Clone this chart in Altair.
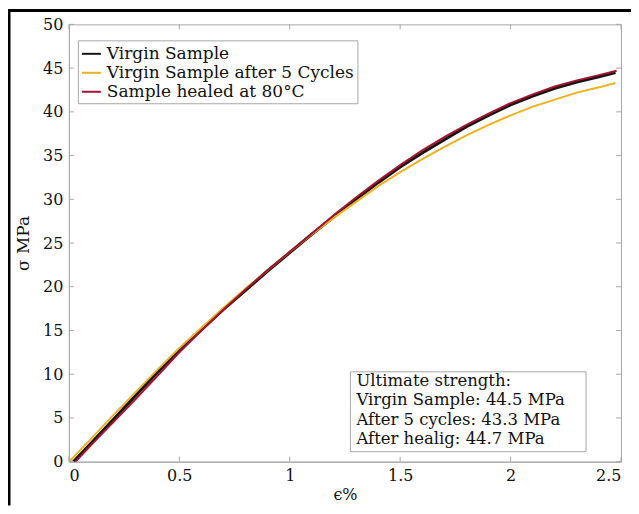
import altair as alt
import pandas as pd

# ---- data ----
series_names = ["Virgin Sample", "Virgin Sample after 5 Cycles", "Sample healed at 80°C"]
series_colors = ["#151515", "#EDB120", "#A2142F"]

virgin_x = [0.02, 0.1, 0.2, 0.3, 0.4, 0.5, 0.6, 0.7, 0.8, 0.9, 1.0, 1.1, 1.2, 1.3,
            1.4, 1.5, 1.6, 1.7, 1.8, 1.9, 2.0, 2.1, 2.2, 2.3, 2.4, 2.475]
virgin_y = [0.0, 2.1, 4.8, 7.5, 10.2, 12.8, 15.1, 17.4, 19.6, 21.8, 23.9, 26.0, 28.0, 30.0,
            31.9, 33.7, 35.3, 36.8, 38.3, 39.6, 40.8, 41.8, 42.7, 43.4, 44.0, 44.5]

cycled_x = [0.005, 0.1, 0.2, 0.3, 0.4, 0.5, 0.6, 0.7, 0.8, 0.9, 1.0, 1.1, 1.2, 1.3,
            1.4, 1.5, 1.6, 1.7, 1.8, 1.9, 2.0, 2.1, 2.2, 2.3, 2.4, 2.475]
cycled_y = [0.1, 2.6, 5.3, 7.9, 10.5, 13.0, 15.3, 17.6, 19.8, 21.9, 24.0, 26.0, 27.9, 29.7,
            31.5, 33.1, 34.6, 36.0, 37.3, 38.5, 39.6, 40.6, 41.4, 42.2, 42.8, 43.3]

healed_x = [0.03, 0.1, 0.2, 0.3, 0.4, 0.5, 0.6, 0.7, 0.8, 0.9, 1.0, 1.1, 1.2, 1.3,
            1.4, 1.5, 1.6, 1.7, 1.8, 1.9, 2.0, 2.1, 2.2, 2.3, 2.4, 2.48]
healed_y = [0.0, 1.9, 4.5, 7.1, 9.8, 12.5, 15.0, 17.4, 19.7, 21.9, 24.0, 26.1, 28.2, 30.2,
            32.1, 33.9, 35.6, 37.1, 38.5, 39.8, 41.0, 42.0, 42.9, 43.6, 44.2, 44.7]

x_ticks = [0, 0.5, 1, 1.5, 2, 2.5]
y_ticks = [0, 5, 10, 15, 20, 25, 30, 35, 40, 45, 50]

note_lines = ["Ultimate strength:", "Virgin Sample: 44.5 MPa",
              "After 5 cycles: 43.3 MPa", "After healig: 44.7 MPa"]

FONT = "DejaVu Serif"
W, H = 553, 438
GRAY = "#a8a8a8"

frames = []
for name, xs, ys in [(series_names[0], virgin_x, virgin_y),
                     (series_names[1], cycled_x, cycled_y),
                     (series_names[2], healed_x, healed_y)]:
    frames.append(pd.DataFrame({"series": name, "strain": xs, "stress": ys}))
df = pd.concat(frames, ignore_index=True)

xscale = alt.Scale(domain=[0, 2.5], nice=False, zero=False)
yscale = alt.Scale(domain=[0, 50], nice=False, zero=False)

color = alt.Color(
    "series:N",
    scale=alt.Scale(domain=series_names, range=series_colors),
    legend=alt.Legend(
        title=None, orient="none", legendX=9, legendY=16,
        symbolType="stroke", symbolSize=361, symbolStrokeWidth=2,
        labelFont=FONT, labelFontSize=17, labelColor="#111",
        strokeColor=GRAY, fillColor="white", padding=3,
        rowPadding=0, labelOffset=5, labelLimit=400,
    ),
)

xaxis = alt.Axis(values=x_ticks, format="~g", title="ϵ%", ticks=False, tickSize=0,
                 labelPadding=6, titlePadding=3, titleFontSize=16, grid=False)
yaxis = alt.Axis(values=y_ticks, title="σ MPa", ticks=False, tickSize=0,
                 labelPadding=6, titlePadding=10, grid=False)

base = alt.Chart(df)

def line_layer(i, width):
    return base.transform_filter(alt.datum.series == series_names[i]).mark_line(
        strokeWidth=width, clip=True
    ).encode(
        x=alt.X("strain:Q", scale=xscale, axis=xaxis),
        y=alt.Y("stress:Q", scale=yscale, axis=yaxis),
        color=color,
    )

lines = [line_layer(0, 3.0), line_layer(1, 2.0), line_layer(2, 2.0)]

xt = pd.DataFrame({"v": x_ticks})
yt = pd.DataFrame({"v": y_ticks})
tick_style = dict(color=GRAY, strokeWidth=1)
xt_bottom = alt.Chart(xt).mark_rule(**tick_style).encode(
    x=alt.X("v:Q", scale=xscale), y=alt.value(H), y2=alt.value(H - 5))
xt_top = alt.Chart(xt).mark_rule(**tick_style).encode(
    x=alt.X("v:Q", scale=xscale), y=alt.value(0), y2=alt.value(5))
yt_left = alt.Chart(yt).mark_rule(**tick_style).encode(
    y=alt.Y("v:Q", scale=yscale), x=alt.value(0), x2=alt.value(5))
yt_right = alt.Chart(yt).mark_rule(**tick_style).encode(
    y=alt.Y("v:Q", scale=yscale), x=alt.value(W), x2=alt.value(W - 5))

note_box = alt.Chart(pd.DataFrame({"a": [0]})).mark_rect(
    fill="white", stroke=GRAY, strokeWidth=1
).encode(x=alt.value(282), x2=alt.value(518), y=alt.value(348), y2=alt.value(428))

note_text = alt.Chart(pd.DataFrame({"a": [0]})).mark_text(
    text=note_lines, align="left", baseline="top", font=FONT, fontSize=16.5,
    lineHeight=19.5, color="#111"
).encode(x=alt.value(288), y=alt.value(349))

frame_top = alt.Chart(pd.DataFrame({"a": [0]})).mark_rule(
    color="black", strokeWidth=3
).encode(x=alt.value(-61), x2=alt.value(W + 10), y=alt.value(-14))
frame_left = alt.Chart(pd.DataFrame({"a": [0]})).mark_rule(
    color="black", strokeWidth=3
).encode(x=alt.value(-60), y=alt.value(-15), y2=alt.value(H + 44))

chart = alt.layer(
    *lines, xt_bottom, xt_top, yt_left, yt_right, note_box, note_text,
    frame_top, frame_left
).properties(
    width=W, height=H,
    background="white",
    autosize=alt.AutoSizeParams(type="none"),
    padding={"left": 61, "top": 16, "right": 10, "bottom": 44},
).configure_view(
    stroke=GRAY, strokeWidth=1
).configure_axis(
    domainColor=GRAY, labelFont=FONT, titleFont=FONT, labelFontSize=16,
    titleFontSize=17, titleFontWeight="normal", labelColor="#111", titleColor="#111",
)

chart.save("out.html", embed_options={"renderer": "svg", "actions": False})
